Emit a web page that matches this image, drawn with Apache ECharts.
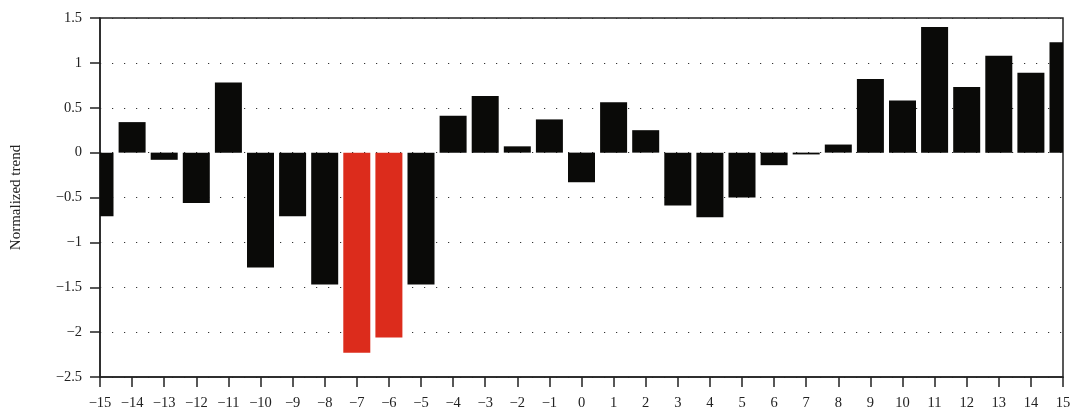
<!DOCTYPE html>
<html>
<head>
<meta charset="utf-8">
<style>
  html, body { margin: 0; padding: 0; background: #fff; }
  #chart { width: 1076px; height: 415px; }
</style>
<script src="https://cdn.jsdelivr.net/npm/echarts@6/dist/echarts.min.js"></script>
</head>
<body>
<div id="chart"></div>
<script>
// Offsets (x positions) and normalized trend values
const offsets = [-15, -14, -13, -12, -11, -10, -9, -8, -7, -6, -5, -4, -3, -2, -1, 0,
                 1, 2, 3, 4, 5, 6, 7, 8, 9, 10, 11, 12, 13, 14, 15];
const trend = [-0.71, 0.34, -0.08, -0.56, 0.78, -1.28, -0.71, -1.47, -2.23, -2.06, -1.47, 0.41, 0.63, 0.07, 0.37, -0.33,
               0.56, 0.25, -0.59, -0.72, -0.50, -0.14, -0.02, 0.09, 0.82, 0.58, 1.40, 0.73, 1.08, 0.89, 1.23];
// Offsets drawn in the highlight colour
const highlighted = [-7, -6];

const yTitle = 'Normalized trend';
const FONT = '"Liberation Serif", "DejaVu Serif", serif';
const BLACK = '#0a0a08';
const RED = '#dc2c1c';
const BAR_WIDTH = 27;

const fmt = v => {
  const s = String(Math.round(v * 100) / 100);
  return s.charAt(0) === '-' ? '\u2212' + s.slice(1) : s;
};

// Bars drawn from the value scales, clipped to the plot area so the
// end bars at -15 and 15 show only their inner halves.
function renderBar(params, api) {
  const x = api.value(0);
  const y = api.value(1);
  const base = api.coord([x, 0]);
  const top = api.coord([x, y]);
  const rect = {
    x: base[0] - BAR_WIDTH / 2,
    y: Math.min(base[1], top[1]),
    width: BAR_WIDTH,
    height: Math.abs(top[1] - base[1])
  };
  const cs = params.coordSys;
  const clipped = echarts.graphic.clipRectByRect(rect, {
    x: cs.x, y: cs.y, width: cs.width, height: cs.height
  });
  if (!clipped) return null;
  return {
    type: 'rect',
    shape: clipped,
    style: { fill: highlighted.includes(x) ? RED : BLACK }
  };
}

const chart = echarts.init(document.getElementById('chart'), null, { renderer: 'canvas' });
chart.setOption({
  animation: false,
  backgroundColor: '#fff',
  grid: {
    left: 100, right: 13, top: 18, bottom: 38,
    show: true, borderColor: '#222', borderWidth: 1.5, backgroundColor: 'transparent'
  },
  xAxis: {
    type: 'value',
    min: -15, max: 15, interval: 1,
    axisLine: { show: true, onZero: false, lineStyle: { color: '#222', width: 1.5 } },
    axisTick: { show: true, length: 10, lineStyle: { color: '#222', width: 1.5 } },
    axisLabel: { margin: 19, color: '#222', fontFamily: FONT, fontSize: 14.5, formatter: fmt },
    splitLine: { show: false }
  },
  yAxis: {
    type: 'value',
    min: -2.5, max: 1.5, interval: 0.5,
    name: yTitle,
    nameLocation: 'middle',
    nameGap: 76,
    nameTextStyle: { color: '#222', fontFamily: FONT, fontSize: 15 },
    axisLine: { show: true, onZero: false, lineStyle: { color: '#222', width: 1.5 } },
    axisTick: { show: true, length: 10, lineStyle: { color: '#222', width: 1.5 } },
    axisLabel: { margin: 18, color: '#222', fontFamily: FONT, fontSize: 14.5, formatter: fmt },
    splitLine: { show: true, lineStyle: { color: '#333', width: 1.2, type: [1.2, 10.8] } }
  },
  series: [{
    type: 'custom',
    renderItem: renderBar,
    data: offsets.map((x, i) => [x, trend[i]]),
    encode: { x: 0, y: 1 }
  }]
});
</script>
</body>
</html>
